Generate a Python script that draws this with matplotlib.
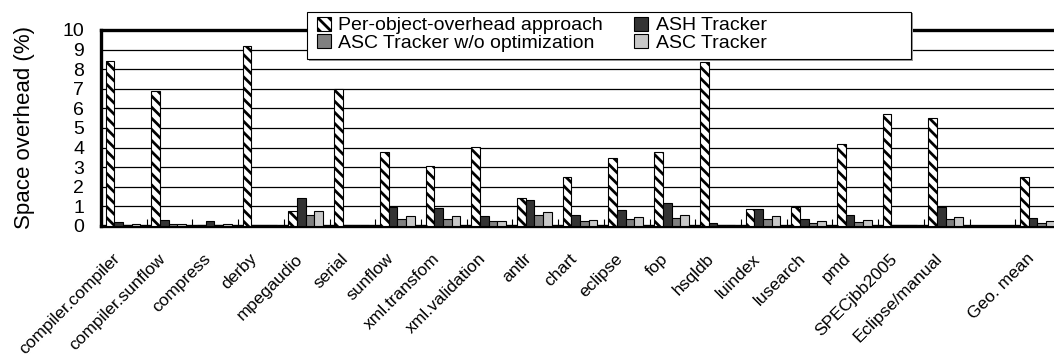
import numpy as np
import matplotlib.pyplot as plt
from matplotlib.patches import Rectangle

plt.rcParams['font.family'] = ['Liberation Sans', 'DejaVu Sans']
plt.rcParams['hatch.linewidth'] = 2.0

benchmarks = ['compiler.compiler', 'compiler.sunflow', 'compress', 'derby', 'mpegaudio',
              'serial', 'sunflow', 'xml.transfom', 'xml.validation', 'antlr', 'chart',
              'eclipse', 'fop', 'hsqldb', 'luindex', 'lusearch', 'pmd', 'SPECjbb2005',
              'Eclipse/manual', '', 'Geo. mean']

per_object = [8.4, 6.9, 0.05, 9.2, 0.78, 7.0, 3.75, 3.08, 4.02, 1.43, 2.52,
              3.48, 3.75, 8.35, 0.89, 0.99, 4.2, 5.7, 5.5, 0, 2.52]
ash = [0.2, 0.3, 0.28, 0.03, 1.43, 0.03, 0.99, 0.9, 0.5, 1.33, 0.57,
       0.83, 1.18, 0.15, 0.89, 0.36, 0.56, 0.03, 0.99, 0, 0.43]
asc_noopt = [0.03, 0.12, 0.03, 0.03, 0.56, 0.03, 0.36, 0.36, 0.24, 0.56, 0.24,
             0.36, 0.43, 0.05, 0.36, 0.15, 0.22, 0.03, 0.36, 0, 0.15]
asc = [0.12, 0.12, 0.12, 0.03, 0.78, 0.03, 0.51, 0.51, 0.24, 0.73, 0.3,
       0.44, 0.56, 0.05, 0.51, 0.24, 0.3, 0.03, 0.44, 0, 0.24]

series = [per_object, ash, asc_noopt, asc]
labels = ['Per-object-overhead approach', 'ASH Tracker',
          'ASC Tracker w/o optimization', 'ASC Tracker']
colors = ['white', '#333333', '#808080', '#c8c8c8']
hatches = ['\\\\\\', None, None, None]

W, H = 1054, 355
fig = plt.figure(figsize=(W / 100, H / 100), dpi=100)
ax = fig.add_axes([101 / W, 129 / H, 960 / W, 196 / H])

x = np.arange(len(benchmarks))
w = 0.19
handles = []
for k, vals in enumerate(series):
    h = ax.bar(x + 0.1 + k * w, vals, w, align='edge', color=colors[k],
               edgecolor='black', linewidth=0.8, hatch=hatches[k],
               label=labels[k], zorder=3)
    handles.append(h)

ax.set_xlim(0, len(benchmarks))
ax.set_ylim(0, 10)
ax.set_yticks(range(11))
ax.tick_params(axis='y', length=0, labelsize=14, pad=12)
ax.yaxis.grid(True, color='black', linewidth=0.9, zorder=0)
ax.set_axisbelow(True)

ax.set_xticks(x + 0.24)
ax.set_xticklabels(benchmarks, rotation=45, ha='right', rotation_mode='anchor',
                   fontsize=12.5)
ax.tick_params(axis='x', length=0, pad=18)
ax.set_xticks(np.arange(1, len(benchmarks)), minor=True)
ax.tick_params(axis='x', which='minor', direction='in', length=5, width=0.8)

for s in ax.spines.values():
    s.set_linewidth(2.4)

ax.set_ylabel('Space overhead (%)', fontsize=16, labelpad=20)

# legend box is wider than its entries, so draw the frame by hand
fig.patches.append(Rectangle((309 / W, 1 - 61 / H), 604 / W, 48 / H,
                             transform=fig.transFigure, facecolor='#999999',
                             edgecolor='none', zorder=1))
fig.patches.append(Rectangle((307 / W, 1 - 59 / H), 604 / W, 47 / H,
                             transform=fig.transFigure, facecolor='white',
                             edgecolor='black', linewidth=0.8, zorder=1))

# legend is filled column by column, so put the handles in row order
order = [0, 2, 1, 3]
leg = fig.legend(handles=[handles[i] for i in order],
                 labels=[labels[i] for i in order], ncol=2,
                 loc='upper left', bbox_to_anchor=(313 / W, 1 - 13 / H),
                 frameon=False, fontsize=14,
                 handlelength=0.7, handleheight=0.7, handletextpad=0.4,
                 labelspacing=0.0, columnspacing=1.6, borderpad=0.2,
                 borderaxespad=0)

fig.savefig('out.png', dpi=100)
